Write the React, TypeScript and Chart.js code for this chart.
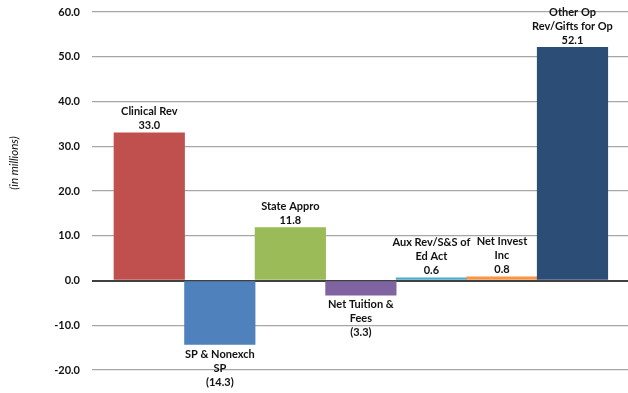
import React, { useEffect, useRef } from "react";
import { Chart, registerables } from "chart.js";

Chart.register(...registerables);

const categories: string[][] = [
  ["Clinical Rev"],
  ["SP & Nonexch", "SP"],
  ["State Appro"],
  ["Net Tuition &", "Fees"],
  ["Aux Rev/S&S of", "Ed Act"],
  ["Net Invest", "Inc"],
  ["Other Op", "Rev/Gifts for Op"],
];
const values: number[] = [33.0, -14.3, 11.8, -3.3, 0.6, 0.8, 52.1];
const colors: string[] = ["#C0504D", "#4F81BD", "#9BBB59", "#8064A2", "#4BACC6", "#F79646", "#2C4D75"];
const yTicks: number[] = [-20, -10, 0, 10, 20, 30, 40, 50, 60];
const yTitle = "(in millions)";

const FONT = "Lato, 'Open Sans', sans-serif";

const fmt = (v: number) => (v < 0 ? `(${Math.abs(v).toFixed(1)})` : v.toFixed(1));

const labelPlugin = {
  id: "barLabels",
  afterDatasetsDraw(chart: any) {
    const ctx = chart.ctx;
    const meta = chart.getDatasetMeta(0);
    ctx.save();
    ctx.font = `bold 11px ${FONT}`;
    ctx.fillStyle = "#111";
    ctx.textAlign = "center";
    ctx.textBaseline = "middle";
    const lh = 14;
    meta.data.forEach((bar: any, i: number) => {
      const lines = [...categories[i], fmt(values[i])];
      const n = lines.length;
      if (values[i] >= 0) {
        lines.forEach((t, k) => {
          ctx.fillText(t, bar.x, bar.y - 7 - (n - 1 - k) * lh);
        });
      } else {
        lines.forEach((t, k) => {
          ctx.fillText(t, bar.x, bar.y + 9.5 + k * lh);
        });
      }
    });
    // axis title
    ctx.font = `italic 11.5px ${FONT}`;
    ctx.fillStyle = "#111";
    ctx.translate(14, 163);
    ctx.rotate(-Math.PI / 2);
    ctx.fillText(yTitle, 0, 0);
    ctx.restore();
  },
};

export default function App() {
  const ref = useRef<HTMLCanvasElement | null>(null);
  useEffect(() => {
    if (!ref.current) return;
    const chart = new Chart(ref.current, {
      type: "bar",
      data: {
        datasets: [
          {
            data: values.map((v, i) => ({ x: i, y: v })),
            backgroundColor: colors,
            borderWidth: 0,
            barPercentage: 1,
            categoryPercentage: 1,
          },
        ],
      },
      options: {
        responsive: false,
        animation: false,
        layout: { padding: { top: 12, bottom: 23, left: 0, right: 0 } },
        plugins: { legend: { display: false }, tooltip: { enabled: false } },
        scales: {
          x: {
            type: "linear",
            offset: false,
            min: -0.812,
            max: 6.787,
            display: false,
            afterBuildTicks: (s: any) => {
              s.ticks = values.map((_, i) => ({ value: i }));
            },
          },
          y: {
            min: yTicks[0],
            max: yTicks[yTicks.length - 1],
            afterBuildTicks: (s: any) => {
              s.ticks = yTicks.map((v) => ({ value: v }));
            },
            afterFit: (s: any) => {
              s.width = 92;
              s.paddingTop = 0;
              s.paddingBottom = 0;
            },
            border: { display: false },
            grid: {
              drawTicks: false,
              color: (c: any) => (c.tick && c.tick.value === 0 ? "#404040" : "#A6A6A6"),
              lineWidth: (c: any) => (c.tick && c.tick.value === 0 ? 2 : 1.3),
            },
            ticks: {
              padding: 12,
              color: "#111",
              font: { family: FONT, size: 11, weight: "bold" },
              callback: (v: any) => Number(v).toFixed(1),
            },
          },
        },
      },
      plugins: [labelPlugin],
    });
    return () => chart.destroy();
  }, []);
  return (
    <div style={{ position: "absolute", left: 0, top: 0, width: 628, height: 393, background: "#fff" }}>
      <canvas ref={ref} width={628} height={393} />
    </div>
  );
}
